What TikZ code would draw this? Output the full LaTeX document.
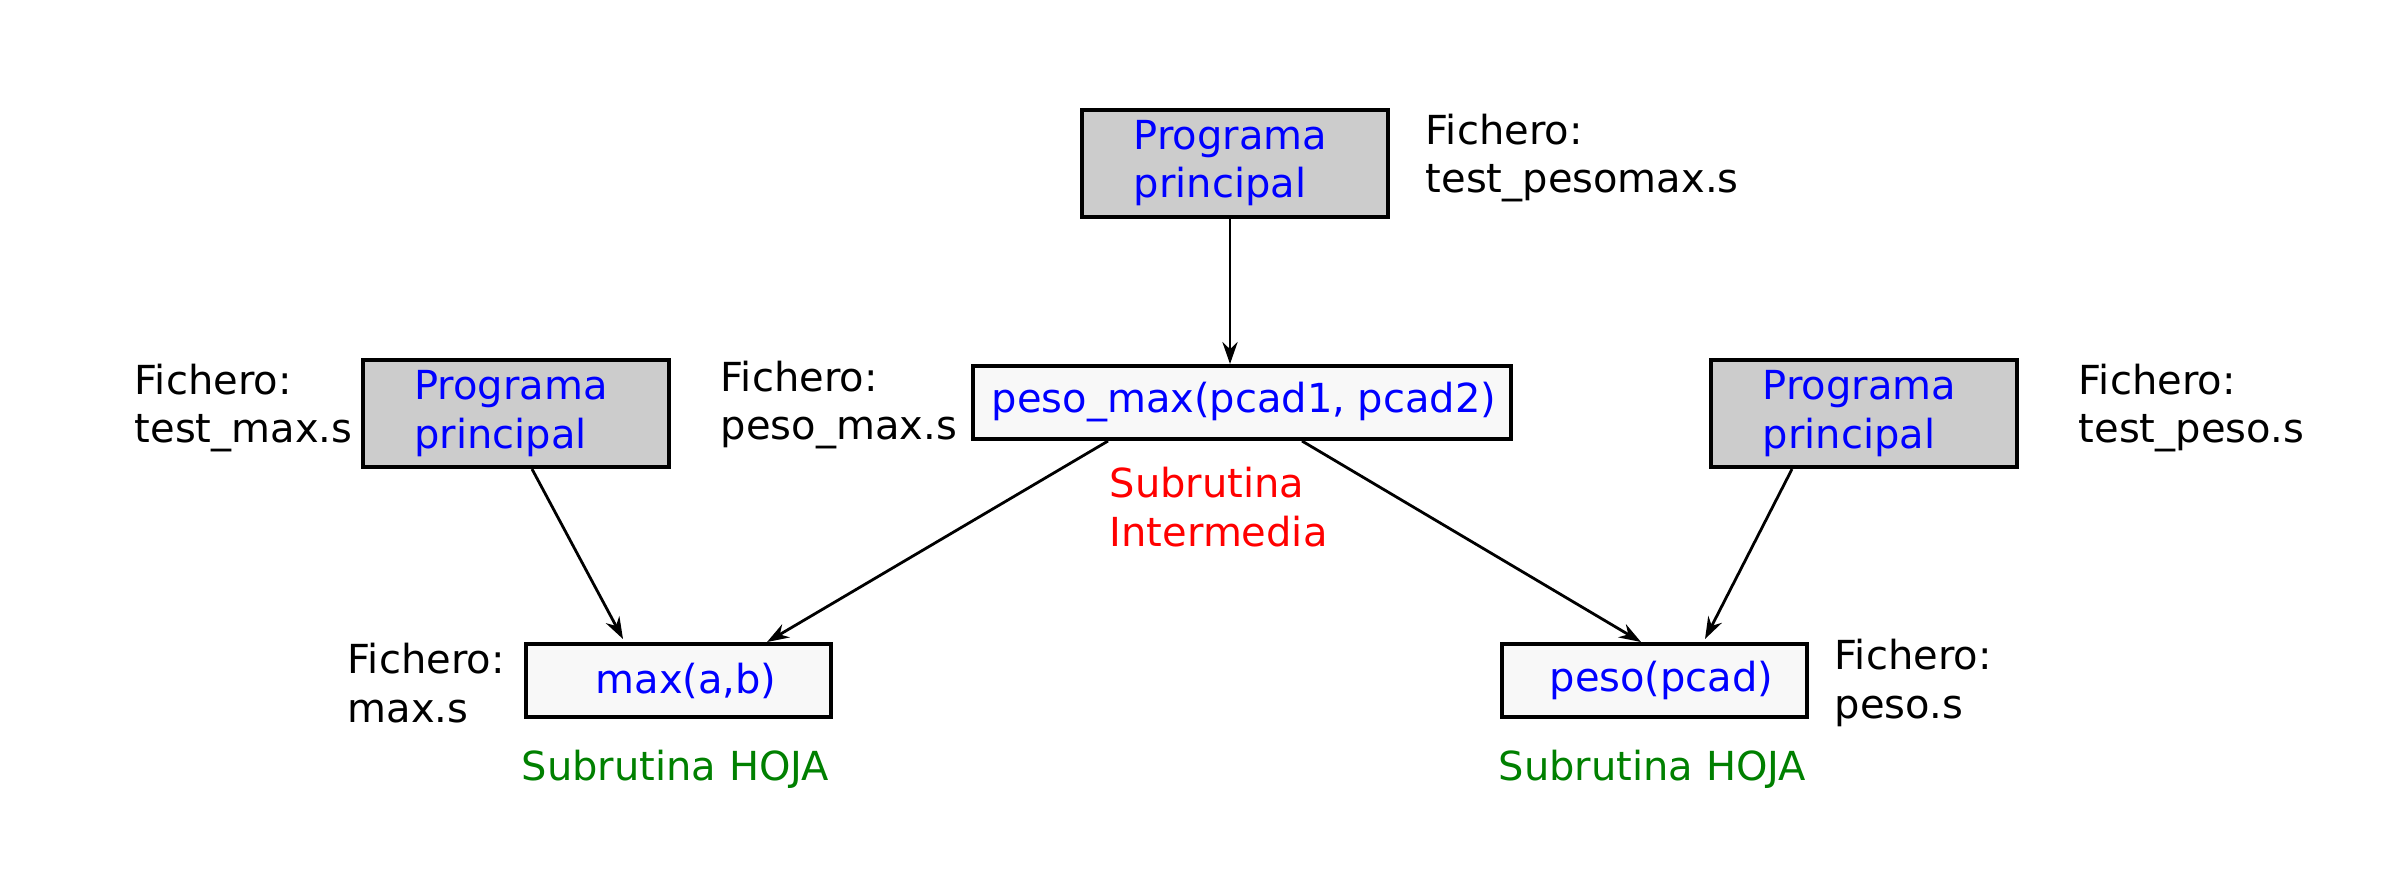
\documentclass[tikz,border=0pt]{standalone}
\usepackage{fontspec}
\setmainfont{DejaVu Sans}
\usetikzlibrary{arrows.meta,calc}
\definecolor{boxgray}{HTML}{CCCCCC}
\definecolor{boxlight}{HTML}{F8F8F8}
\definecolor{txtblue}{HTML}{0000FF}
\definecolor{txtred}{HTML}{FF0000}
\definecolor{txtgreen}{HTML}{008000}
\begin{document}
\begin{tikzpicture}[x=0.25pt,y=-0.25pt,
  mainbox/.style={draw=black,line width=1pt,fill=boxgray,minimum width=76.5pt,minimum height=26.75pt,inner sep=0pt,align=left,text=txtblue,font=\fontsize{10}{12.15}\selectfont},
  subbox/.style={draw=black,line width=1pt,fill=boxlight,minimum height=18.25pt,inner sep=0pt,text=txtblue,font=\fontsize{10}{12.15}\selectfont},
  filelabel/.style={anchor=west,align=left,inner sep=0pt,font=\fontsize{10}{12.15}\selectfont},
  conn/.style={line width=0.7pt,-{Stealth[length=5.5pt,width=3.8pt]}}]
\useasboundingbox[fill=white] (0,0) rectangle (2383,881);
% boxes
\node[mainbox] (top) at (1235,163) {Programa\hspace*{2.25pt}\\principal};
\node[subbox,minimum width=134.5pt] (mid) at (1242,402.5) {\hspace*{1pt}peso\_max(pcad1, pcad2)};
\node[mainbox] (lmain) at (515.5,413.5) {Programa\hspace*{2.25pt}\\principal};
\node[mainbox] (rmain) at (1864,413.5) {Programa\hspace*{2.25pt}\\principal};
\node[subbox,minimum width=76.25pt] (maxb) at (678.5,680.5) {\hspace*{3.75pt}max(a,b)};
\node[subbox,minimum width=76.25pt] (pesob) at (1654.5,680.5) {\hspace*{3.5pt}peso(pcad)};
% labels
\node[filelabel] (ltop) at (1425,158) {Fichero:\\test\_pesomax.s};
\node[filelabel] (lmid) at (720,405) {Fichero:\\peso\_max.s};
\node[filelabel] (ltm) at (134,408) {Fichero:\\test\_max.s};
\node[filelabel] (ltp) at (2078,408) {Fichero:\\test\_peso.s};
\node[filelabel] (lmax) at (347,683) {Fichero:\\max.s};
\node[filelabel] (lpeso) at (1834,683) {Fichero:\\peso.s};
\node[filelabel,text=txtred] (inter) at (1109,507) {Subrutina\\Intermedia};
\node[filelabel,text=txtgreen] (hoja1) at (521,769) {Subrutina HOJA};
\node[filelabel,text=txtgreen] (hoja2) at (1498,769) {Subrutina HOJA};
% connectors
\draw[conn] ($(top.south)+(-5,0)$) -- ($(mid.north)+(-12,0)$);
\draw[conn] ($(lmain.south)+(16.5,0)$) -- ($(maxb.north)+(-55.5,-3)$);
\draw[conn] ($(mid.south)+(-134,0)$) -- ($(maxb.north)+(88.5,0)$);
\draw[conn] ($(mid.south)+(60,0)$) -- ($(pesob.north)+(-13.5,0)$);
\draw[conn] ($(rmain.south)+(-72,0)$) -- ($(pesob.north)+(50.5,-3)$);
\end{tikzpicture}
\end{document}
